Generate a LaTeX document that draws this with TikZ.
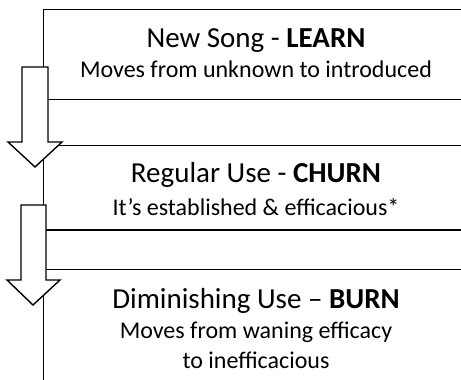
\documentclass[tikz,border=0pt]{standalone}
\usepackage{fontspec}
\setmainfont{Carlito}
\usetikzlibrary{positioning}

\begin{document}
\begin{tikzpicture}[x=1pt, y=-1pt, line width=1.4pt,
    title/.style={font=\fontsize{29}{35}\selectfont, anchor=base, inner sep=0pt},
    sub/.style={font=\fontsize{24}{29}\selectfont, anchor=base, inner sep=0pt},
    stage/.style={draw, rectangle, anchor=north west, minimum width=427pt, inner sep=0pt},
    downarrow/.style={draw, fill=white}]
  	\clip (0,0) rectangle (461,380);

  	\node[stage, minimum height=90pt] (S1) at (43,9) {};
  	\node[stage, minimum height=124pt] (S2) at (43,145) {};
  	\node[stage, minimum height=130pt] (S3) at (43,269) {};
  	\draw (S2.north west |- 0,230) -- (S2.north east |- 0,230);

  	\node[title] (T1) at (256,47) {New Song - \textbf{LEARN}};
  	\node[sub] (D1) at (256,77) {Moves from unknown to introduced};
  	\node[title] (T2) at (256,182) {Regular Use - \textbf{CHURN}};
  	\node[sub] (D2) at (256,215) {It’s established \& efficacious*};
  	\node[title] (T3) at (256,308) {Diminishing Use – \textbf{BURN}};
  	\node[sub] (D3) at (256,338) {Moves from waning efficacy};
  	\node[sub] (D4) at (256,368) {to inefficacious};

  	\filldraw[downarrow] (22,67) -- (48,67) -- (48,142) -- (62,142) -- (35,167) -- (8,142) -- (22,142) -- cycle;
  	\filldraw[downarrow] (21,205) -- (46,205) -- (46,280) -- (60,280) -- (33,305) -- (7,280) -- (21,280) -- cycle;
\end{tikzpicture}
\end{document}
